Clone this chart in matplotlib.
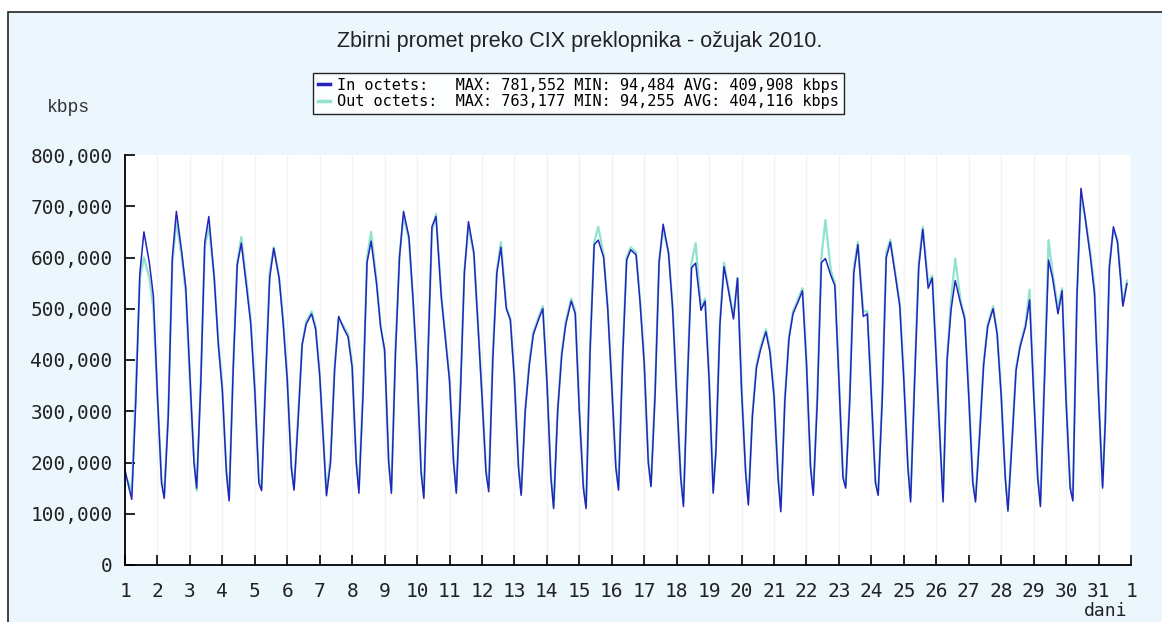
import numpy as np
import matplotlib
matplotlib.use("Agg")
import matplotlib.pyplot as plt
from matplotlib.patches import Rectangle
from matplotlib.ticker import FuncFormatter

# sample hours inside each day (thousands of kbps)
hours = [0, 3, 5, 8, 11, 14, 18, 21]

in_kbps = [
    [185, 150, 128, 320, 570, 650, 590, 525],
    [330, 160, 130, 290, 600, 690, 610, 540],
    [370, 200, 150, 350, 630, 680, 560, 430],
    [340, 180, 125, 380, 585, 628, 540, 470],
    [340, 160, 145, 360, 560, 618, 560, 470],
    [361, 190, 146, 280, 430, 470, 490, 460],
    [370, 231, 135, 200, 380, 485, 460, 445],
    [386, 200, 140, 330, 590, 632, 550, 465],
    [420, 200, 140, 410, 600, 690, 640, 520],
    [380, 180, 130, 400, 660, 680, 520, 440],
    [360, 200, 140, 330, 570, 670, 610, 470],
    [330, 180, 143, 400, 570, 620, 500, 478],
    [361, 190, 136, 300, 390, 450, 480, 500],
    [360, 170, 110, 300, 410, 470, 515, 490],
    [300, 150, 110, 420, 625, 634, 600, 500],
    [350, 190, 146, 400, 595, 615, 605, 510],
    [393, 200, 153, 330, 590, 665, 608, 500],
    [330, 170, 114, 360, 580, 589, 497, 515],
    [360, 140, 220, 470, 582, 540, 480, 560],
    [340, 180, 117, 290, 385, 420, 455, 415],
    [329, 170, 104, 320, 440, 490, 515, 535],
    [393, 190, 136, 320, 590, 598, 565, 545],
    [361, 170, 150, 320, 570, 625, 485, 490],
    [329, 160, 136, 320, 600, 630, 560, 505],
    [360, 190, 123, 360, 580, 655, 540, 560],
    [400, 230, 123, 400, 500, 555, 510, 480],
    [330, 160, 123, 250, 390, 465, 500, 450],
    [330, 170, 105, 240, 380, 426, 465, 517],
    [335, 170, 114, 360, 595, 560, 490, 535],
    [320, 150, 125, 520, 735, 680, 600, 530],
    [330, 150, 280, 580, 660, 630, 505, 549],
]

out_kbps = [
    [175, 160, 140, 350, 560, 600, 560, 500],
    [330, 170, 135, 300, 590, 670, 600, 530],
    [360, 210, 145, 360, 620, 660, 560, 440],
    [345, 185, 130, 390, 590, 640, 550, 480],
    [345, 170, 150, 370, 570, 620, 560, 480],
    [365, 195, 150, 290, 430, 475, 495, 465],
    [372, 235, 140, 210, 385, 480, 465, 450],
    [390, 205, 150, 340, 600, 650, 555, 470],
    [415, 205, 145, 420, 605, 680, 635, 515],
    [375, 185, 135, 410, 650, 685, 525, 445],
    [365, 205, 145, 340, 575, 660, 605, 475],
    [335, 185, 150, 410, 575, 630, 505, 480],
    [365, 195, 140, 305, 395, 455, 485, 505],
    [362, 175, 115, 305, 415, 475, 520, 495],
    [305, 155, 115, 430, 630, 660, 605, 505],
    [352, 195, 150, 410, 600, 620, 610, 515],
    [395, 205, 155, 340, 595, 655, 610, 505],
    [335, 175, 120, 370, 590, 628, 500, 520],
    [365, 145, 225, 475, 590, 545, 485, 560],
    [345, 185, 122, 295, 390, 425, 460, 420],
    [332, 175, 110, 325, 445, 495, 520, 540],
    [395, 195, 140, 330, 600, 673, 575, 550],
    [365, 175, 155, 330, 580, 630, 495, 495],
    [332, 165, 140, 330, 610, 635, 565, 510],
    [365, 195, 130, 370, 590, 660, 550, 565],
    [405, 235, 130, 405, 520, 598, 515, 485],
    [335, 165, 128, 255, 395, 470, 505, 455],
    [335, 175, 110, 245, 385, 430, 470, 537],
    [340, 175, 120, 370, 634, 570, 500, 540],
    [325, 155, 130, 530, 720, 680, 610, 540],
    [335, 155, 285, 585, 655, 635, 510, 555],
]

day_labels = [str(d) for d in range(1, 32)] + ["1"]
y_ticks = [0, 100000, 200000, 300000, 400000, 500000, 600000, 700000, 800000]

title = "Zbirni promet preko CIX preklopnika - ožujak 2010."
in_label = "In octets:   MAX: 781,552 MIN: 94,484 AVG: 409,908 kbps"
out_label = "Out octets:  MAX: 763,177 MIN: 94,255 AVG: 404,116 kbps"

# x in days from the 1st, y in kbps
x = np.array([d + h / 24 for d in range(len(in_kbps)) for h in hours])
y_in = np.array(in_kbps).ravel() * 1000
y_out = np.array(out_kbps).ravel() * 1000

mono = "DejaVu Sans Mono"
bg = "#ebf7fd"

fig = plt.figure(figsize=(11.62, 6.22), dpi=100, facecolor="white")
frame = Rectangle((8 / 1162, -0.1), 1.2, 1.1 - 12 / 622, transform=fig.transFigure,
                  facecolor=bg, edgecolor="#222222", linewidth=1.2, zorder=-5)
fig.patches.append(frame)

ax = fig.add_axes([125 / 1162, 57 / 622, 1006 / 1162, 410 / 622])
ax.set_facecolor("white")

line_out, = ax.plot(x, y_out, color="#8fe3cf", linewidth=1.6, label=out_label)
line_in, = ax.plot(x, y_in, color="#2424bc", linewidth=1.1, label=in_label)

ax.set_xlim(0, 31)
ax.set_ylim(0, 800000)
ax.set_xticks(range(32))
ax.set_xticklabels(day_labels, fontfamily=mono, fontsize=14, color="#222222")
ax.set_yticks(y_ticks)
ax.yaxis.set_major_formatter(FuncFormatter(lambda v, p: f"{int(v):,}"))
for lab in ax.get_yticklabels():
    lab.set_fontfamily(mono)
    lab.set_fontsize(14)
    lab.set_color("#222222")
ax.tick_params(axis="x", direction="in", length=7, width=1.2, pad=12)
ax.tick_params(axis="y", direction="in", length=7, width=1.2, pad=9)
ax.spines["top"].set_visible(False)
ax.spines["right"].set_visible(False)
ax.spines["left"].set_linewidth(1.3)
ax.spines["bottom"].set_linewidth(1.3)
ax.grid(axis="x", color="#f2f2f2", linewidth=1)
ax.set_axisbelow(True)

fig.text(580 / 1162, 1 - 42 / 622, title, ha="center", va="center",
         fontfamily="Liberation Sans", fontsize=15.5, color="#222222")
fig.text(68 / 1162, 1 - 107 / 622, "kbps", ha="center", va="center",
         fontfamily="Liberation Mono", fontsize=13, color="#333333")
fig.text(1127 / 1162, 1 - 611 / 622, "dani", ha="right", va="center",
         fontfamily=mono, fontsize=13, color="#222222")

leg = fig.legend(handles=[line_in, line_out], loc="upper left",
                 bbox_to_anchor=(313 / 1162, 1 - 73 / 622),
                 prop={"family": mono, "size": 11}, frameon=True, fancybox=False,
                 edgecolor="#222222", facecolor="#fbfdff", framealpha=1,
                 handlelength=0.8, handletextpad=0.5, borderpad=0.3,
                 labelspacing=0.1, borderaxespad=0)
leg.get_frame().set_linewidth(1.0)
for h in leg.legend_handles:
    h.set_linewidth(2.5)

fig.savefig("out.png", dpi=100, facecolor=fig.get_facecolor())
